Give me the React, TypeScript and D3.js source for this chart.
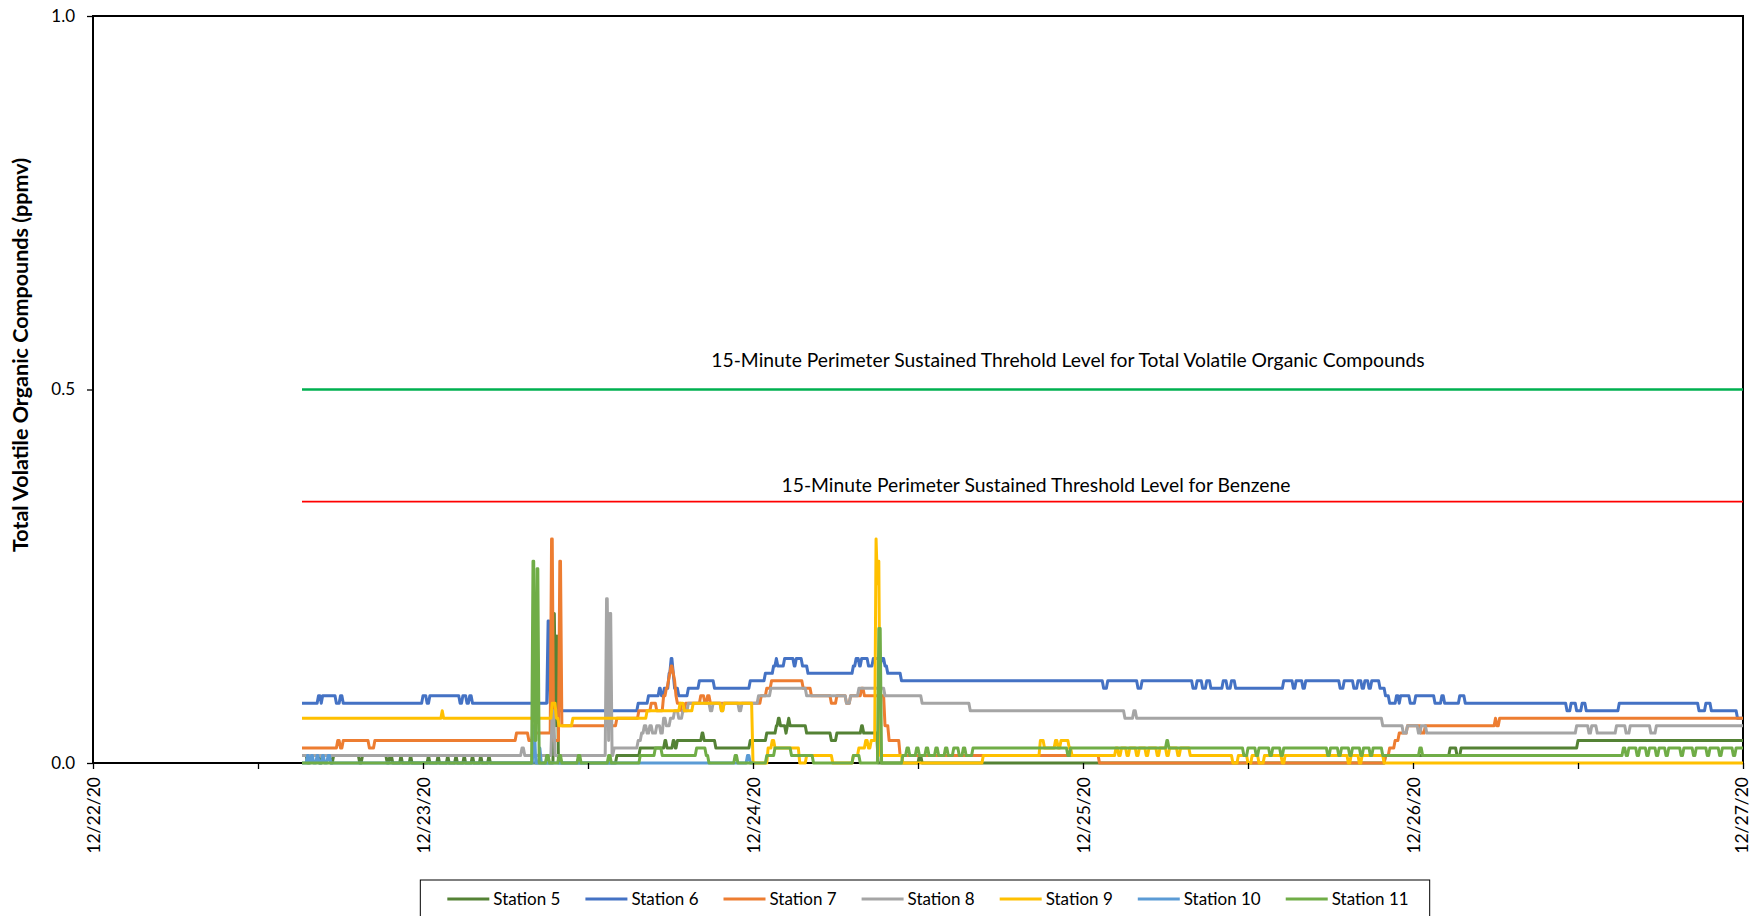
import React, { useEffect, useRef } from "react";
import * as d3 from "d3";

const width = 1752;
const height = 916;
const margin = { top: 16, right: 9, bottom: 153, left: 93 };

// hours after 12/22/20 00:00 -> ppmv (value holds until the next point)
const station5: [number, number][] = [
  [15.2, 0.01], [15.6, 0.0], [15.8, 0.01], [16.5, 0.0], [16.7, 0.01], [17.3, 0.0], [17.5, 0.01], [19.4, 0.0], [19.6, 0.01],
  [21.4, 0.0], [21.6, 0.01], [21.8, 0.0], [22.4, 0.01], [22.5, 0.0], [23.1, 0.01], [23.2, 0.0], [24.4, 0.01], [24.5, 0.0],
  [25.1, 0.01], [25.2, 0.0], [25.8, 0.01], [25.9, 0.0], [26.4, 0.01], [26.5, 0.0], [27.0, 0.01], [27.1, 0.0], [27.6, 0.01],
  [27.7, 0.0], [28.2, 0.01], [28.3, 0.0], [28.8, 0.01], [28.9, 0.0], [33.55, 0.2], [33.65, 0.05], [33.75, 0.17], [33.85, 0.0],
  [38.1, 0.01], [39.8, 0.02], [41.6, 0.03], [41.75, 0.02], [42.2, 0.03], [42.35, 0.02], [42.5, 0.03], [44.3, 0.04],
  [44.45, 0.03], [45.3, 0.02], [47.8, 0.03], [49.0, 0.04], [49.7, 0.05], [49.85, 0.06], [50.0, 0.05], [50.4, 0.04],
  [50.5, 0.05], [50.6, 0.06], [50.7, 0.05], [51.9, 0.04], [53.7, 0.03], [54.1, 0.04], [55.9, 0.05], [56.05, 0.04],
  [57.1, 0.0], [60.1, 0.01], [60.3, 0.0], [94.0, 0.01], [98.7, 0.02], [99.2, 0.01], [99.5, 0.02], [108.0, 0.03], [120, 0.03],
];

const station6: [number, number][] = [
  [15.2, 0.08], [16.4, 0.09], [16.6, 0.08], [16.7, 0.09], [17.7, 0.08], [18.0, 0.09], [18.2, 0.08],
  [24.0, 0.09], [24.3, 0.08], [24.5, 0.09], [26.7, 0.08], [26.9, 0.09], [27.2, 0.08], [27.4, 0.09], [27.6, 0.08],
  [33.1, 0.19], [33.25, 0.08], [33.5, 0.07], [39.65, 0.08], [40.4, 0.09], [41.2, 0.1], [41.35, 0.09], [41.55, 0.1],
  [41.9, 0.12], [42.05, 0.14], [42.2, 0.12], [42.3, 0.1], [42.6, 0.09], [43.3, 0.1], [44.1, 0.11], [45.2, 0.1],
  [47.8, 0.11], [48.9, 0.12], [49.5, 0.13], [49.7, 0.14], [49.8, 0.13], [50.3, 0.14], [51.0, 0.13], [51.15, 0.14],
  [51.6, 0.13], [52.0, 0.12], [55.3, 0.13], [55.5, 0.14], [55.75, 0.13], [55.9, 0.14], [56.4, 0.13], [56.75, 0.14],
  [57.2, 0.13], [57.35, 0.14], [57.6, 0.13], [57.8, 0.12], [58.8, 0.11], [73.5, 0.1], [73.8, 0.11], [76.0, 0.1],
  [76.3, 0.11], [80.0, 0.1], [80.3, 0.11], [80.7, 0.1], [81.0, 0.11], [81.3, 0.1], [82.2, 0.11], [82.5, 0.1],
  [82.8, 0.11], [83.1, 0.1], [86.6, 0.11], [87.3, 0.1], [87.5, 0.11], [88.0, 0.1], [88.2, 0.11], [90.7, 0.1],
  [91.0, 0.11], [91.7, 0.1], [92.0, 0.11], [92.3, 0.1], [92.5, 0.11], [92.8, 0.1], [93.0, 0.11], [93.6, 0.1],
  [94.0, 0.09], [94.3, 0.08], [94.8, 0.09], [95.0, 0.08], [95.1, 0.09], [95.8, 0.08], [96.2, 0.09], [97.6, 0.08],
  [98.1, 0.09], [98.3, 0.08], [99.4, 0.09], [99.8, 0.08], [107.2, 0.07], [107.5, 0.08], [107.9, 0.07], [108.3, 0.08],
  [108.6, 0.07], [111.0, 0.08], [116.8, 0.07], [117.3, 0.08], [117.7, 0.07], [119.6, 0.06], [120, 0.06],
];

const station7: [number, number][] = [
  [15.2, 0.02], [17.8, 0.03], [18.0, 0.02], [18.2, 0.03], [20.1, 0.02], [20.5, 0.03], [30.8, 0.04], [31.7, 0.03],
  [32.0, 0.04], [33.35, 0.3], [33.5, 0.03], [33.95, 0.27], [34.1, 0.05], [38.1, 0.06], [39.7, 0.07], [40.6, 0.08],
  [41.0, 0.07], [41.5, 0.09], [41.7, 0.1], [41.85, 0.11], [41.95, 0.12], [42.05, 0.13], [42.2, 0.12], [42.3, 0.11],
  [42.4, 0.09], [42.5, 0.08], [42.8, 0.07], [43.1, 0.08], [44.2, 0.09], [44.5, 0.08], [44.7, 0.09], [44.9, 0.08],
  [48.6, 0.09], [49.0, 0.1], [49.35, 0.11], [51.65, 0.1], [52.25, 0.09], [53.7, 0.08], [54.1, 0.09], [54.8, 0.08],
  [55.1, 0.09], [55.9, 0.1], [56.1, 0.09], [57.6, 0.05], [57.9, 0.03], [58.7, 0.01], [73.2, 0.0], [94.0, 0.01],
  [94.3, 0.02], [94.7, 0.03], [95.0, 0.04], [95.6, 0.05], [96.6, 0.04], [96.9, 0.05], [102.0, 0.06], [102.1, 0.05],
  [102.3, 0.06], [120, 0.06],
];

const station8: [number, number][] = [
  [15.2, 0.01], [31.2, 0.02], [31.4, 0.01], [33.4, 0.07], [33.6, 0.01], [37.35, 0.22], [37.5, 0.03], [37.6, 0.2],
  [37.75, 0.01], [37.9, 0.02], [39.65, 0.03], [39.9, 0.04], [40.1, 0.05], [40.3, 0.04], [40.5, 0.05], [40.7, 0.04],
  [41.0, 0.05], [41.3, 0.04], [41.5, 0.06], [41.7, 0.05], [42.0, 0.06], [42.3, 0.07], [42.6, 0.06], [42.9, 0.07],
  [43.3, 0.08], [44.9, 0.07], [45.1, 0.08], [45.7, 0.07], [45.9, 0.08], [47.0, 0.07], [47.2, 0.08], [48.4, 0.09],
  [49.3, 0.1], [51.9, 0.09], [54.8, 0.08], [55.1, 0.09], [55.7, 0.1], [57.6, 0.09], [60.3, 0.08], [63.8, 0.07],
  [75.05, 0.06], [75.7, 0.07], [75.9, 0.06], [93.8, 0.05], [95.3, 0.04], [95.6, 0.05], [96.4, 0.04], [96.6, 0.05],
  [97.0, 0.04], [107.9, 0.05], [108.8, 0.04], [109.0, 0.05], [109.4, 0.04], [110.8, 0.05], [111.5, 0.04],
  [111.8, 0.05], [113.3, 0.04], [113.7, 0.05], [120, 0.05],
];

const station9: [number, number][] = [
  [15.2, 0.06], [25.4, 0.07], [25.5, 0.06], [33.4, 0.08], [33.7, 0.06], [33.9, 0.05], [34.9, 0.06], [40.3, 0.07],
  [42.7, 0.08], [43.0, 0.07], [43.65, 0.08], [45.7, 0.07], [45.9, 0.08], [48.0, 0.0], [49.1, 0.02], [49.4, 0.03],
  [49.6, 0.02], [51.4, 0.0], [51.9, 0.01], [53.8, 0.0], [55.3, 0.01], [55.7, 0.02], [56.2, 0.03], [56.4, 0.02],
  [56.6, 0.03], [56.95, 0.3], [57.05, 0.24], [57.1, 0.27], [57.25, 0.01], [58.9, 0.0], [64.75, 0.01], [68.9, 0.03],
  [69.2, 0.02], [70.0, 0.03], [70.2, 0.02], [70.4, 0.03], [71.0, 0.02], [71.2, 0.01], [74.4, 0.02], [74.6, 0.01],
  [74.8, 0.02], [75.2, 0.01], [75.4, 0.02], [75.9, 0.01], [76.1, 0.02], [76.6, 0.01], [76.8, 0.02], [77.4, 0.01],
  [77.6, 0.02], [78.1, 0.01], [78.3, 0.02], [78.9, 0.01], [79.1, 0.02], [79.8, 0.01], [82.9, 0.0], [83.3, 0.01],
  [84.0, 0.0], [84.3, 0.01], [84.8, 0.0], [85.2, 0.01], [86.5, 0.0], [86.7, 0.01], [91.3, 0.0], [91.5, 0.01],
  [92.1, 0.0], [92.3, 0.01], [93.9, 0.0], [120, 0.0],
];

const station10: [number, number][] = [
  [15.2, 0.0], [15.6, 0.01], [15.75, 0.0], [15.9, 0.01], [16.05, 0.0], [16.3, 0.01], [16.45, 0.0], [16.7, 0.01],
  [16.85, 0.0], [17.1, 0.01], [17.3, 0.0], [32.05, 0.05], [32.2, 0.0], [32.5, 0.02], [32.6, 0.0], [47.6, 0.01],
  [47.8, 0.0], [48.0, 0.0],
];

const station11: [number, number][] = [
  [15.2, 0.0], [32.0, 0.27], [32.15, 0.03], [32.3, 0.26], [32.45, 0.0], [33.0, 0.01], [33.2, 0.0], [33.9, 0.01],
  [34.1, 0.0], [35.3, 0.01], [35.5, 0.0], [37.5, 0.01], [37.7, 0.0], [39.8, 0.01], [40.9, 0.02], [41.4, 0.01],
  [43.9, 0.02], [44.6, 0.01], [44.8, 0.0], [46.7, 0.01], [46.9, 0.0], [49.0, 0.01], [49.6, 0.02], [50.8, 0.01],
  [52.4, 0.0], [55.3, 0.01], [55.8, 0.0], [57.15, 0.18], [57.35, 0.0], [58.9, 0.01], [59.2, 0.02], [59.4, 0.01],
  [59.9, 0.02], [60.1, 0.01], [60.6, 0.02], [60.8, 0.01], [61.3, 0.02], [61.5, 0.01], [62.0, 0.02], [62.2, 0.01],
  [62.6, 0.02], [63.0, 0.01], [63.3, 0.02], [63.5, 0.01], [64.0, 0.02], [70.9, 0.01], [71.1, 0.02], [78.1, 0.03],
  [78.25, 0.02], [83.7, 0.01], [84.0, 0.02], [84.6, 0.01], [84.8, 0.02], [85.6, 0.01], [85.8, 0.02], [86.4, 0.01],
  [86.6, 0.02], [89.8, 0.01], [90.0, 0.02], [90.6, 0.01], [90.8, 0.02], [91.4, 0.01], [91.6, 0.02], [92.2, 0.01],
  [92.4, 0.02], [92.9, 0.01], [93.1, 0.02], [93.8, 0.01], [96.5, 0.02], [96.7, 0.01], [111.3, 0.02], [111.5, 0.01],
  [111.7, 0.02], [112.3, 0.01], [112.5, 0.02], [113.0, 0.01], [113.2, 0.02], [113.7, 0.01], [113.9, 0.02],
  [114.4, 0.01], [114.6, 0.02], [115.5, 0.01], [115.7, 0.02], [116.4, 0.01], [116.6, 0.02], [117.4, 0.01],
  [117.6, 0.02], [118.3, 0.01], [118.5, 0.02], [119.3, 0.01], [119.5, 0.02], [120, 0.02],
];

const stationNames = ["Station 5", "Station 6", "Station 7", "Station 8", "Station 9", "Station 10", "Station 11"];
const stationColors = ["#548235", "#4472C4", "#ED7D31", "#A5A5A5", "#FFC000", "#5B9BD5", "#70AD47"];
const stationData = [station5, station6, station7, station8, station9, station10, station11];

const thresholdValues = [0.5, 0.35];
const thresholdColors = ["#00B050", "#FF0000"];
const thresholdLabels = [
  "15-Minute Perimeter Sustained Threhold Level for Total Volatile Organic Compounds",
  "15-Minute Perimeter Sustained Threshold Level for Benzene",
];
const thresholdHours = [15.2, 120];

const yTicks = [0, 0.5, 1.0];
const startDate = new Date(2020, 11, 22);
const endDate = new Date(2020, 11, 27);

const font = "Lato, 'Open Sans', sans-serif";
const ramp = 0.1; // hours a reading takes to move to the next level

const toDate = (h: number) => new Date(startDate.getTime() + h * 3600 * 1000);

// each change point becomes a short ramp from the previous level
const withRamps = (pts: [number, number][]) =>
  pts.flatMap((p, i): [number, number][] =>
    i === 0 ? [p] : [[Math.max(pts[i - 1][0], p[0] - ramp), pts[i - 1][1]], p]);

function TvocChart() {
  const ref = useRef<SVGSVGElement>(null);

  useEffect(() => {
    const svg = d3.select(ref.current);
    svg.selectAll("*").remove();

    const x = d3.scaleTime().domain([startDate, endDate]).range([margin.left, width - margin.right]);
    const y = d3.scaleLinear().domain([0, 1]).range([height - margin.bottom, margin.top]);

    // plot frame
    svg.append("rect")
      .attr("x", margin.left).attr("y", margin.top)
      .attr("width", width - margin.left - margin.right)
      .attr("height", height - margin.top - margin.bottom)
      .attr("fill", "none").attr("stroke", "#000").attr("stroke-width", 2);

    // threshold lines + labels
    thresholdValues.forEach((v, i) => {
      svg.append("line")
        .attr("x1", x(toDate(thresholdHours[0]))).attr("x2", x(toDate(thresholdHours[1])))
        .attr("y1", y(v)).attr("y2", y(v))
        .attr("stroke", thresholdColors[i]).attr("stroke-width", i === 0 ? 2.6 : 1.8);
    });
    svg.append("text")
      .attr("x", 1068).attr("y", y(thresholdValues[0]) - 29).attr("dy", "0.35em")
      .attr("text-anchor", "middle").attr("font-family", font).attr("font-size", 19.3)
      .text(thresholdLabels[0]);
    svg.append("text")
      .attr("x", 1036).attr("y", y(thresholdValues[1]) - 16).attr("dy", "0.35em")
      .attr("text-anchor", "middle").attr("font-family", font).attr("font-size", 19.3)
      .text(thresholdLabels[1]);

    const line = d3.line<[number, number]>()
      .x(d => x(toDate(d[0])))
      .y(d => y(d[1]));

    svg.append("g")
      .selectAll("path")
      .data(stationData)
      .join("path")
      .attr("d", d => line(withRamps(d)))
      .attr("fill", "none")
      .attr("stroke", (d, i) => stationColors[i])
      .attr("stroke-width", 3)
      .attr("stroke-linejoin", "round");

    // axes
    const xTicks = d3.timeHour.every(12)!.range(startDate, new Date(endDate.getTime() + 1));
    const fmt = d3.timeFormat("%m/%d/%y");
    svg.append("g")
      .attr("transform", `translate(0,${height - margin.bottom})`)
      .call(d3.axisBottom(x).tickValues(xTicks).tickSize(6)
        .tickFormat(d => ((d as Date).getHours() === 0 ? fmt(d as Date) : "")))
      .call(g => g.select(".domain").remove())
      .call(g => g.selectAll(".tick line").attr("stroke", "#000").attr("stroke-width", 1.3))
      .call(g => g.selectAll(".tick text")
        .attr("transform", "rotate(-90)")
        .attr("text-anchor", "end")
        .attr("x", -14)
        .attr("y", (d, i, n) => (i === n.length - 1 ? -2 : 0))
        .attr("dy", "0.35em")
        .attr("font-family", font).attr("font-size", 17.5).attr("fill", "#000"));

    svg.append("g")
      .attr("transform", `translate(${margin.left},0)`)
      .call(d3.axisLeft(y).tickValues(yTicks).tickSize(6).tickPadding(12).tickFormat(d3.format(".1f")))
      .call(g => g.select(".domain").remove())
      .call(g => g.selectAll(".tick line").attr("stroke", "#000").attr("stroke-width", 1.3))
      .call(g => g.selectAll(".tick text").attr("font-family", font).attr("font-size", 17).attr("fill", "#000"));

    svg.append("text")
      .attr("transform", `translate(20,355) rotate(-90)`)
      .attr("text-anchor", "middle").attr("dy", "0.35em")
      .attr("font-family", font).attr("font-size", 21.5).attr("font-weight", "bold")
      .text("Total Volatile Organic Compounds (ppmv)");

    // legend
    const legend = svg.append("g");
    const items = legend.selectAll("g").data(stationNames).join("g");
    items.append("line")
      .attr("x1", 0).attr("x2", 42).attr("y1", 0).attr("y2", 0)
      .attr("stroke", (d, i) => stationColors[i]).attr("stroke-width", 3);
    items.append("text")
      .attr("x", 46).attr("dy", "0.35em")
      .attr("font-family", font).attr("font-size", 17)
      .text(d => d);
    const gap = 25;
    let cx = 0;
    const offsets: number[] = [];
    items.each(function () {
      offsets.push(cx);
      const t = d3.select(this).select("text").node() as SVGTextElement;
      cx += 46 + t.getComputedTextLength() + gap;
    });
    const total = cx - gap;
    const legendLeft = 928 - total / 2;
    items.attr("transform", (d, i) => `translate(${legendLeft + offsets[i]},899)`);
    legend.insert("rect", ":first-child")
      .attr("x", legendLeft - 27).attr("y", 880)
      .attr("width", total + 48).attr("height", 60)
      .attr("fill", "#fff").attr("stroke", "#000").attr("stroke-width", 1);
  }, []);

  return (
    <svg ref={ref} width={width} height={height}
      style={{ position: "absolute", left: 0, top: 0, display: "block", background: "#fff" }} />
  );
}

export default function App() {
  return <TvocChart />;
}
